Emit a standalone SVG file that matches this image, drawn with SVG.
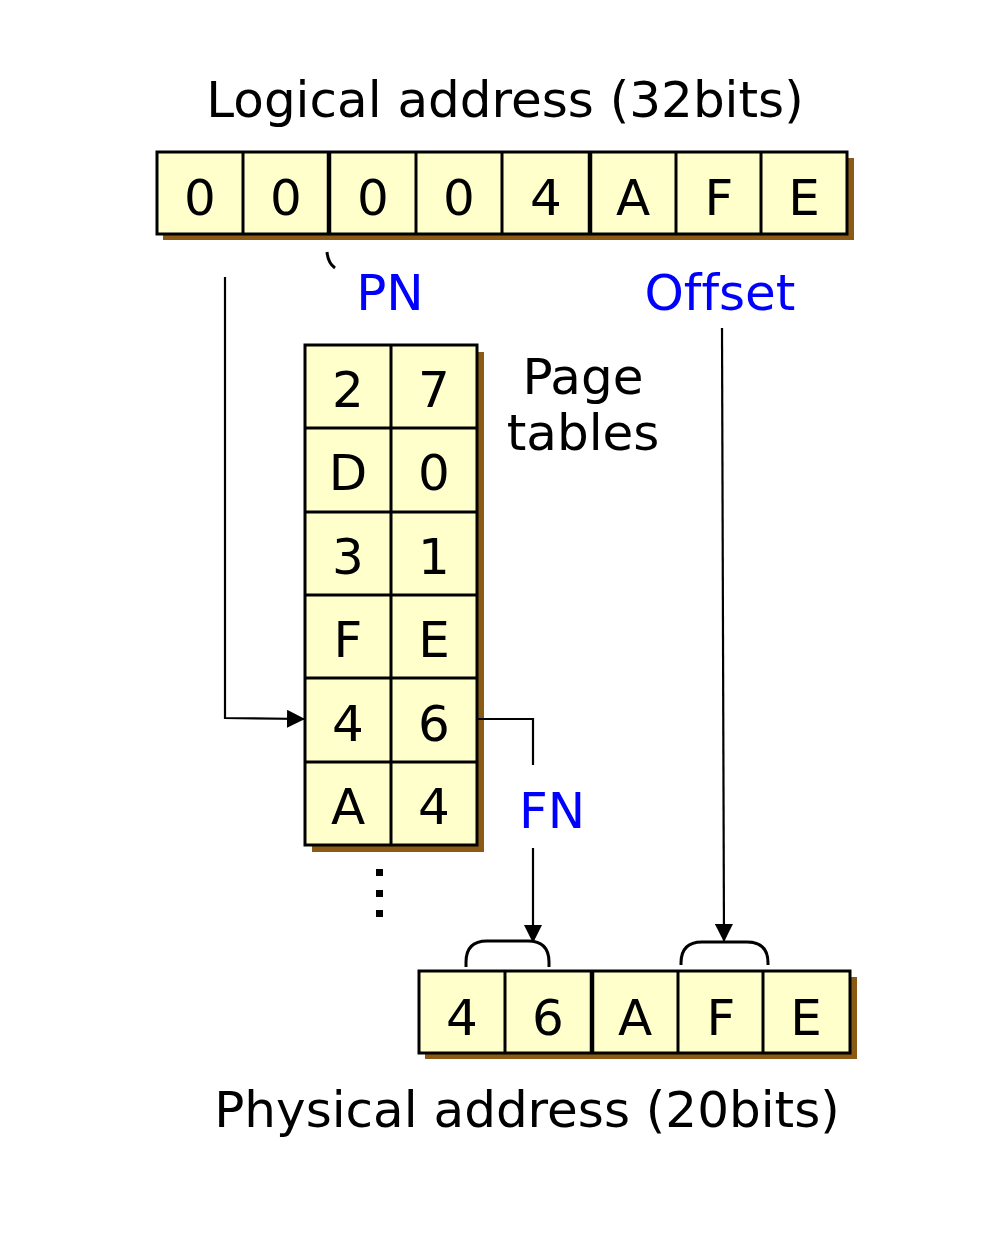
<svg xmlns="http://www.w3.org/2000/svg" width="1000" height="1256" viewBox="0 0 1000 1256">
<style>
.cell{fill:#FFFFCC;stroke:#000;stroke-width:3}
.div{stroke:#000;stroke-width:3}
.thick{stroke:#000;stroke-width:4.5}
.sh{fill:#8B5A14}
.t{font-family:"DejaVu Sans",Verdana,sans-serif;font-size:50px;fill:#000;text-anchor:middle;font-variant-ligatures:none}
.b{font-family:"DejaVu Sans",Verdana,sans-serif;font-size:50px;fill:#0000FF;text-anchor:middle;font-variant-ligatures:none}
.ln{fill:none;stroke:#000;stroke-width:2.2}
.br{fill:none;stroke:#000;stroke-width:3}
</style>
<defs>
<marker id="ah2" markerWidth="18" markerHeight="18" refX="17" refY="9" orient="auto" markerUnits="userSpaceOnUse" viewBox="0 0 18 18">
<path d="M0,0 L18,9 L0,18 Z" fill="#000"/>
</marker>
</defs>
<text class="t" x="505" y="117">Logical address (32bits)</text>
<g id="logical">
<rect class="sh" x="163" y="158" width="691" height="82"/>
<rect class="cell" x="157" y="152" width="690" height="82"/>
<line class="div" x1="243" y1="152" x2="243" y2="234"/>
<line class="thick" x1="329" y1="152" x2="329" y2="234"/>
<line class="div" x1="416" y1="152" x2="416" y2="234"/>
<line class="div" x1="502" y1="152" x2="502" y2="234"/>
<line class="thick" x1="590" y1="152" x2="590" y2="234"/>
<line class="div" x1="676" y1="152" x2="676" y2="234"/>
<line class="div" x1="761" y1="152" x2="761" y2="234"/>
<text class="t" x="200" y="215">0</text>
<text class="t" x="286" y="215">0</text>
<text class="t" x="373" y="215">0</text>
<text class="t" x="459" y="215">0</text>
<text class="t" x="546" y="215">4</text>
<text class="t" x="633" y="215">A</text>
<text class="t" x="719" y="215">F</text>
<text class="t" x="804" y="215">E</text>
</g>
<g id="pn-label">
<path class="br" d="M327,252 Q328,263 335,268"/>
<text class="b" x="390" y="310">PN</text>
</g>
<g id="offset-label">
<text class="b" x="720" y="310">Offset</text>
</g>
<g id="pagetable">
<rect class="sh" x="312" y="352" width="172" height="500"/>
<rect class="cell" x="305" y="345" width="172" height="500"/>
<line class="div" x1="391" y1="345" x2="391" y2="845"/>
<line class="div" x1="305" y1="428" x2="477" y2="428"/>
<line class="div" x1="305" y1="512" x2="477" y2="512"/>
<line class="div" x1="305" y1="595" x2="477" y2="595"/>
<line class="div" x1="305" y1="678" x2="477" y2="678"/>
<line class="div" x1="305" y1="762" x2="477" y2="762"/>
<text class="t" x="348" y="407">2</text><text class="t" x="434" y="407">7</text>
<text class="t" x="348" y="490">D</text><text class="t" x="434" y="490">0</text>
<text class="t" x="348" y="574">3</text><text class="t" x="434" y="574">1</text>
<text class="t" x="348" y="657">F</text><text class="t" x="434" y="657">E</text>
<text class="t" x="348" y="741">4</text><text class="t" x="434" y="741">6</text>
<text class="t" x="348" y="824">A</text><text class="t" x="434" y="824">4</text>
</g>
<g id="pagetable-label">
<text class="t" x="583" y="394">Page</text>
<text class="t" x="583" y="450">tables</text>
</g>
<g id="dots">
<rect x="376" y="869" width="7" height="7"/>
<rect x="376" y="890" width="7" height="7"/>
<rect x="376" y="910" width="7" height="7"/>
</g>
<g id="fn-label">
<text class="b" x="552" y="828">FN</text>
</g>
<g id="physical">
<rect class="sh" x="425" y="977" width="432" height="82"/>
<rect class="cell" x="419" y="971" width="431" height="82"/>
<line class="div" x1="505" y1="971" x2="505" y2="1053"/>
<line class="thick" x1="592" y1="971" x2="592" y2="1053"/>
<line class="div" x1="678" y1="971" x2="678" y2="1053"/>
<line class="div" x1="763" y1="971" x2="763" y2="1053"/>
<text class="t" x="462" y="1035">4</text>
<text class="t" x="548" y="1035">6</text>
<text class="t" x="635" y="1035">A</text>
<text class="t" x="721" y="1035">F</text>
<text class="t" x="806" y="1035">E</text>
<path class="br" d="M466,967 L466,962 Q466,941 487,941 L528,941 Q549,941 549,962 L549,967"/>
<path class="br" d="M681,965 L681,963 Q681,942 702,942 L747,942 Q768,942 768,963 L768,965"/>
</g>
<text class="t" x="527" y="1127">Physical address (20bits)</text>
<g id="connectors">
<polyline class="ln" points="225,277 225,718 304,719" marker-end="url(#ah2)"/>
<polyline class="ln" points="477,719 533,719 533,765"/>
<line class="ln" x1="533" y1="848" x2="533" y2="942" marker-end="url(#ah2)"/>
<line class="ln" x1="722" y1="328" x2="724" y2="941" marker-end="url(#ah2)"/>
</g>
</svg>
